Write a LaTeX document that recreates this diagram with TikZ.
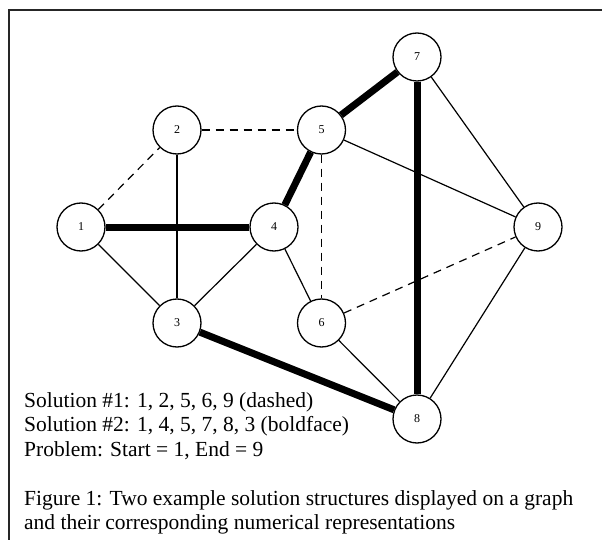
\documentclass[tikz,border=0pt]{standalone}
\usepackage{fontspec}
\setmainfont{Liberation Serif}
\begin{document}
\begin{tikzpicture}[x=1pt,y=-1pt,
  vtx/.style={circle,draw,fill=white,line width=1.3pt,minimum size=48pt,inner sep=0pt,font=\fontsize{12}{12}\selectfont},
  thin edge/.style={line width=1.2pt},
  bold edge/.style={line width=7pt},
  dash edge/.style={line width=1.2pt,dash pattern=on 8pt off 6pt},
  txt/.style={anchor=base west,inner sep=0pt,font=\fontsize{21.5}{24}\selectfont}]
\useasboundingbox (0,0) rectangle (602,540);
\draw[line width=2pt,black!85] (9,540) -- (9,10) -- (602,10);
\node[vtx] (n1) at (81,227) {1};
\node[vtx] (n2) at (177,130) {2};
\node[vtx] (n3) at (177,323) {3};
\node[vtx] (n4) at (274,227) {4};
\node[vtx] (n5) at (321.5,130) {5};
\node[vtx] (n6) at (321.5,323) {6};
\node[vtx] (n7) at (417,57) {7};
\node[vtx] (n8) at (417,419) {8};
\node[vtx] (n9) at (538,227) {9};
\draw[thin edge] (n1) -- (n3);
\draw[thin edge] (n2) -- (n3);
\draw[thin edge] (n3) -- (n4);
\draw[thin edge] (n4) -- (n6);
\draw[thin edge] (n5) -- (n9);
\draw[thin edge] (n7) -- (n9);
\draw[thin edge] (n9) -- (n8);
\draw[thin edge] (n6) -- (n8);
\draw[dash edge] (n1) -- (n2);
\draw[dash edge] (n2) -- (n5);
\draw[dash edge] (n5) -- (n6);
\draw[dash edge] (n6) -- (n9);
\draw[bold edge] (n1) -- (n4);
\draw[bold edge] (n4) -- (n5);
\draw[bold edge] (n5) -- (n7);
\draw[bold edge] (n7) -- (n8);
\draw[bold edge] (n8) -- (n3);
\node[txt] (s1) at (24,407) {Solution \#1: 1, 2, 5, 6, 9 (dashed)};
\node[txt] (s2) at (24,431.5) {Solution \#2: 1, 4, 5, 7, 8, 3 (boldface)};
\node[txt] (pr) at (24,456) {Problem: Start = 1, End = 9};
\node[txt] (c1) at (24,505) {Figure 1: Two example solution structures displayed on a graph};
\node[txt] (c2) at (24,529) {and their corresponding numerical representations};
\end{tikzpicture}
\end{document}
